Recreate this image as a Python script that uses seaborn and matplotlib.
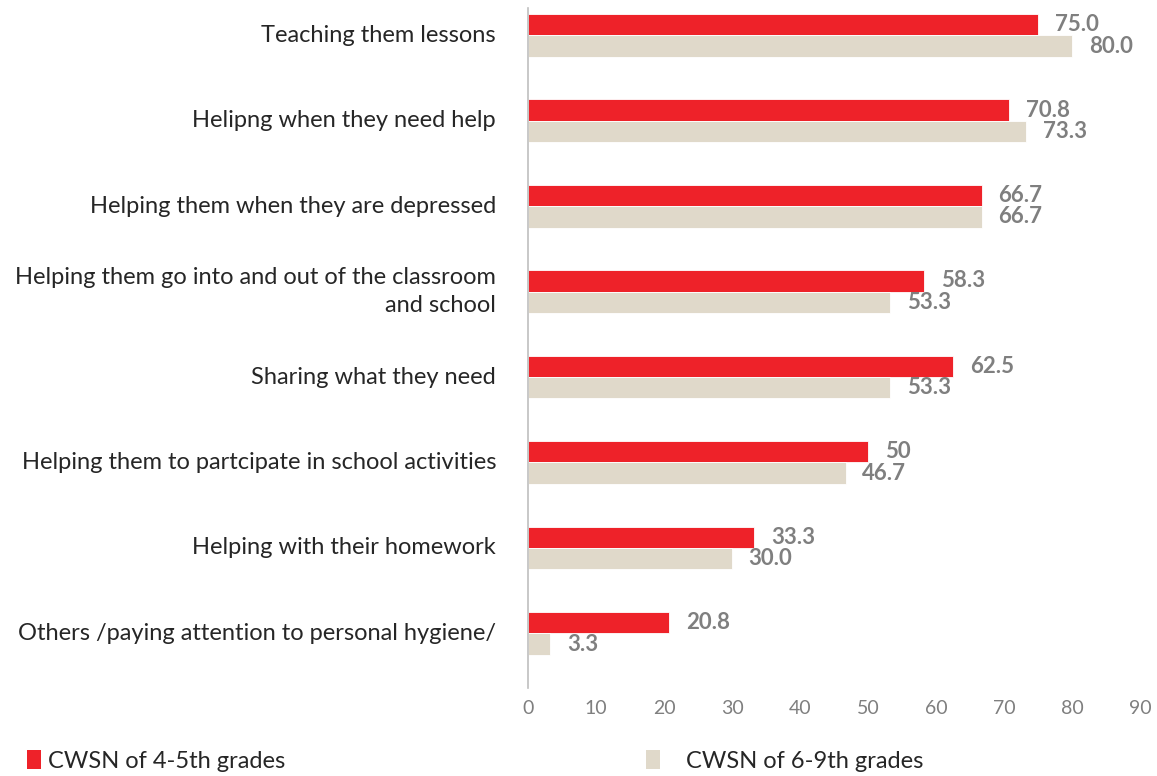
import matplotlib
matplotlib.use("Agg")
import matplotlib.pyplot as plt
import seaborn as sns
import pandas as pd
from matplotlib.patches import Patch

categories = [
    "Teaching them lessons",
    "Helipng when they need help",
    "Helping them when they are depressed",
    "Helping them go into and out of the classroom\nand school",
    "Sharing what they need",
    "Helping them to partcipate in school activities",
    "Helping with their homework",
    "Others /paying attention to personal hygiene/",
]
series_names = ["CWSN of 4-5th grades", "CWSN of 6-9th grades"]
values_45 = [75.0, 70.8, 66.7, 58.3, 62.5, 50.0, 33.3, 20.8]
values_69 = [80.0, 73.3, 66.7, 53.3, 53.3, 46.7, 30.0, 3.3]
labels_45 = ["75.0", "70.8", "66.7", "58.3", "62.5", "50", "33.3", "20.8"]
labels_69 = ["80.0", "73.3", "66.7", "53.3", "53.3", "46.7", "30.0", "3.3"]
xticks = [0, 10, 20, 30, 40, 50, 60, 70, 80, 90]

colors = ["#EE2229", "#E0D9CA"]

df = pd.DataFrame({
    "category": categories * 2,
    "value": values_45 + values_69,
    "series": [series_names[0]] * len(categories) + [series_names[1]] * len(categories),
})

sns.set_theme(style="white")
fam = ["Lato", "DejaVu Sans"]
plt.rcParams["font.family"] = fam

fig = plt.figure(figsize=(11.57, 7.76), dpi=100)
ax = fig.add_axes([528 / 1157, 1 - 688 / 776, 612 / 1157, 680 / 776])

sns.barplot(data=df, y="category", x="value", hue="series", order=categories,
            hue_order=series_names, palette=colors, width=0.5, orient="h",
            ax=ax, legend=False, saturation=1, edgecolor="white", linewidth=0.6)

ax.set_xlim(0, 90)
ax.set_ylim(7.64, -0.32)
ax.set_xticks(xticks)
ax.set_xlabel("")
ax.set_ylabel("")

for spine in ["top", "right", "bottom"]:
    ax.spines[spine].set_visible(False)
ax.spines["left"].set_color("#BFBFBF")
ax.spines["left"].set_linewidth(1.2)

ax.tick_params(axis="x", length=0, pad=9, labelsize=14, labelcolor="#7F7F7F")
ax.tick_params(axis="y", length=0, pad=23, labelsize=17, labelcolor="#262626")
for t in ax.get_yticklabels():
    t.set_linespacing(1.45)
    t.set_verticalalignment("center")

for cont, labs in zip(ax.containers, [labels_45, labels_69]):
    ax.bar_label(cont, labels=labs, padding=12, fontsize=16,
                 color="#7F7F7F", fontweight="bold")

h1 = Patch(facecolor=colors[0], edgecolor="none")
h2 = Patch(facecolor=colors[1], edgecolor="none")
leg_kw = dict(frameon=False, handlelength=0.6, handleheight=0.85, handletextpad=0.3,
              prop={"family": fam, "size": 17}, borderaxespad=0, borderpad=0)
l1 = fig.legend([h1], [series_names[0]], loc="center left",
                bbox_to_anchor=(27 / 1157, 1 - 761 / 776), **leg_kw)
l2 = fig.legend([h2], [series_names[1]], loc="center left",
                bbox_to_anchor=(646 / 1157, 1 - 761 / 776),
                **{**leg_kw, "handletextpad": 1.08})
for l in (l1, l2):
    for t in l.get_texts():
        t.set_color("#262626")

fig.savefig("out.png", dpi=100)
